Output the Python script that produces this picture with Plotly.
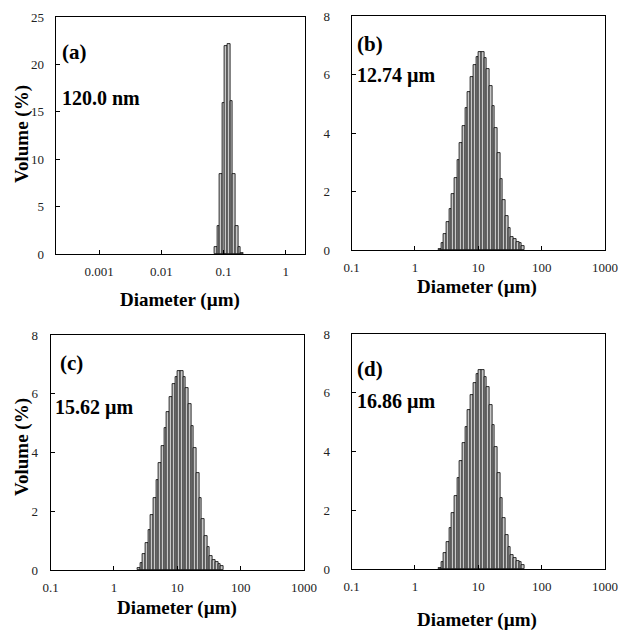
import plotly.graph_objects as go

# ---------------- data ----------------
# (a) nanoparticles: bin centre diameters (um) and volume (%)
diam_a = [0.0750, 0.0827, 0.0912, 0.1006, 0.1109, 0.1223, 0.1349, 0.1487, 0.1640, 0.1808, 0.1994]
vol_a = [0.7, 3.0, 8.4, 15.9, 21.9, 22.1, 16.1, 8.4, 3.0, 0.7, 0.15]

# (b)-(d) microparticles: bin centre diameters (um)
diam_um = [2.462, 2.715, 2.994, 3.301, 3.640, 4.014, 4.426, 4.881, 5.382, 5.935,
           6.545, 7.217, 7.958, 8.775, 9.676, 10.67, 11.77, 12.97, 14.31, 15.78,
           17.40, 19.18, 21.15, 23.33, 25.72, 28.36, 31.28, 34.49, 38.03, 41.93,
           46.24, 50.99]
vol_b = [0.04, 0.23, 0.54, 0.95, 1.39, 1.91, 2.46, 3.07, 3.67, 4.25,
         4.87, 5.39, 5.90, 6.32, 6.61, 6.76, 6.76, 6.55, 6.19, 5.62,
         4.92, 4.18, 3.30, 2.43, 1.71, 1.16, 0.76, 0.46, 0.36, 0.29,
         0.24, 0.15]
vol_c = [0.08, 0.25, 0.53, 0.93, 1.37, 1.87, 2.46, 3.05, 3.64, 4.23,
         4.82, 5.39, 5.89, 6.33, 6.58, 6.78, 6.78, 6.56, 6.19, 5.64,
         4.90, 4.14, 3.29, 2.44, 1.73, 1.17, 0.77, 0.48, 0.35, 0.28,
         0.22, 0.14]
vol_d = [0.05, 0.23, 0.53, 0.93, 1.39, 1.90, 2.49, 3.09, 3.66, 4.28,
         4.85, 5.41, 5.92, 6.32, 6.63, 6.78, 6.78, 6.55, 6.21, 5.60,
         4.90, 4.16, 3.26, 2.43, 1.73, 1.16, 0.76, 0.48, 0.36, 0.27,
         0.23, 0.15]

panel_letters = ["(a)", "(b)", "(c)", "(d)"]
mean_sizes = ["120.0 nm", "12.74 \u00b5m", "15.62 \u00b5m", "16.86 \u00b5m"]

xt_a_vals = [0.001, 0.01, 0.1, 1]
xt_a_text = ["0.001", "0.01", "0.1", "1"]
xt_um_vals = [0.1, 1, 10, 100, 1000]
xt_um_text = ["0.1", "1", "10", "100", "1000"]
yt_a = [0, 5, 10, 15, 20, 25]
yt_um = [0, 2, 4, 6, 8]

# ---------------- figure ----------------
W, H = 631, 633
OFF = 8  # default page body margin that shifts the figure in the browser
SERIF = "Liberation Serif"
BIN_RATIO = 10 ** 0.0425  # geometric bin ratio of the analyser
half = BIN_RATIO ** 0.5


def px_x(p):
    return (p - OFF) / W


def px_y(p):
    return 1 - (p - OFF) / H


fig = go.Figure()

series = [(diam_a, vol_a), (diam_um, vol_b), (diam_um, vol_c), (diam_um, vol_d)]
for i, (xs, ys) in enumerate(series):
    sfx = "" if i == 0 else str(i + 1)
    # bars span the geometric bin [d/sqrt(r), d*sqrt(r)] on the log axis
    widths = [d * (half - 1 / half) for d in xs]
    offsets = [d / half - d for d in xs]
    fig.add_trace(go.Bar(
        x=xs, y=ys, xaxis="x" + sfx, yaxis="y" + sfx,
        width=widths, offset=offsets,
        marker=dict(color="#c8c8c8", line=dict(color="black", width=0.8)),
        showlegend=False, hoverinfo="x+y"))

# pixel boxes (page pixels) of the four plot areas (left, right, top, bottom)
boxes = [(55.5, 304.5, 17, 254), (351.5, 605, 16, 250),
         (50.5, 304, 335, 570), (351.5, 605, 334, 569)]
ylab_standoff = [8, 18, 9, 18]

tickfont = dict(family=SERIF, size=13, color="#222")
layout = dict(width=W, height=H, autosize=False,
              margin=dict(l=0, r=0, t=0, b=0, pad=0, autoexpand=False),
              paper_bgcolor="white", plot_bgcolor="white", bargap=0)

for i, (l, r, t, b) in enumerate(boxes):
    sfx = "" if i == 0 else str(i + 1)
    xdom = [px_x(l), px_x(r)]
    ydom = [px_y(b), px_y(t)]
    if i == 0:
        xr = [-3.699, 0.301]
        tv, tt = xt_a_vals, xt_a_text
        yr, ytv = [0, 25], yt_a
    else:
        xr = [-1, 3]
        tv, tt = xt_um_vals, xt_um_text
        yr, ytv = [0, 8], yt_um
    layout["xaxis" + sfx] = dict(
        domain=xdom, type="log", range=xr, anchor="y" + sfx,
        tickvals=tv, ticktext=tt, ticks="inside", ticklen=4,
        tickcolor="black", showline=True, linecolor="black", linewidth=1,
        mirror=True, showgrid=False, zeroline=False, tickfont=tickfont,
        ticklabelstandoff=5, automargin=False)
    layout["yaxis" + sfx] = dict(
        domain=ydom, range=yr, anchor="x" + sfx, tickvals=ytv,
        ticks="inside", ticklen=4, tickcolor="black",
        showline=True, linecolor="black", linewidth=1, mirror=True,
        showgrid=False, zeroline=False, tickfont=tickfont,
        ticklabelstandoff=ylab_standoff[i], automargin=False)

annos = []
# x-axis titles
xtitle_pos = [(180, 300), (477, 287), (177, 608), (477, 620)]
for (x, y) in xtitle_pos:
    annos.append(dict(x=px_x(x), y=px_y(y), xref="paper", yref="paper",
                      text="<b>Diameter (\u00b5m)</b>", showarrow=False,
                      font=dict(family=SERIF, size=19, color="black"),
                      xanchor="center", yanchor="middle"))
# y-axis titles
for (x, y) in [(22, 134), (22, 447)]:
    annos.append(dict(x=px_x(x), y=px_y(y), xref="paper", yref="paper",
                      text="<b>Volume (%)</b>", showarrow=False, textangle=-90,
                      font=dict(family=SERIF, size=19, color="black"),
                      xanchor="center", yanchor="middle"))
# panel letters and mean sizes
letter_pos = [(60, 52), (355, 44), (58, 363), (355, 369)]
size_pos = [(60, 98), (355, 75), (53, 407), (355, 401)]
for i in range(4):
    lx, ly = letter_pos[i]
    annos.append(dict(x=px_x(lx), y=px_y(ly), xref="paper", yref="paper",
                      text="<b>" + panel_letters[i] + "</b>", showarrow=False,
                      font=dict(family=SERIF, size=21, color="black"),
                      xanchor="left", yanchor="middle"))
    sx, sy = size_pos[i]
    annos.append(dict(x=px_x(sx), y=px_y(sy), xref="paper", yref="paper",
                      text="<b>" + mean_sizes[i] + "</b>", showarrow=False,
                      font=dict(family=SERIF, size=20, color="black"),
                      xanchor="left", yanchor="middle"))
layout["annotations"] = annos

fig.update_layout(**layout)
fig.write_html("out.html")
